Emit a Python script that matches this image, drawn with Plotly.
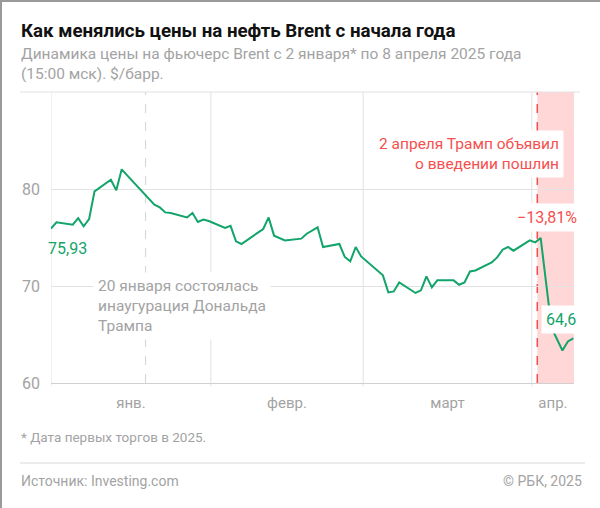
import pandas as pd
import plotly.graph_objects as go

# Brent, $/барр., котировки на 15:00 мск
dates = [
    "2025-01-02", "2025-01-03", "2025-01-06", "2025-01-07", "2025-01-08", "2025-01-09",
    "2025-01-10", "2025-01-13", "2025-01-14", "2025-01-15", "2025-01-16", "2025-01-21",
    "2025-01-22", "2025-01-23", "2025-01-24", "2025-01-27", "2025-01-28", "2025-01-29",
    "2025-01-30", "2025-01-31", "2025-02-03", "2025-02-04", "2025-02-05", "2025-02-06",
    "2025-02-10", "2025-02-11", "2025-02-12", "2025-02-14", "2025-02-17", "2025-02-18",
    "2025-02-20", "2025-02-21", "2025-02-24", "2025-02-25", "2025-02-26", "2025-02-27",
    "2025-02-28", "2025-03-04", "2025-03-05", "2025-03-06", "2025-03-07", "2025-03-10",
    "2025-03-11", "2025-03-12", "2025-03-13", "2025-03-14", "2025-03-17", "2025-03-18",
    "2025-03-19", "2025-03-20", "2025-03-21", "2025-03-24", "2025-03-25", "2025-03-26",
    "2025-03-27", "2025-03-28", "2025-03-31", "2025-04-01", "2025-04-02", "2025-04-04",
    "2025-04-06", "2025-04-07", "2025-04-08",
]
prices = [
    75.93, 76.56, 76.32, 77.00, 76.15, 76.90,
    79.75, 80.96, 79.86, 82.03, 81.40, 78.38,
    78.10, 77.59, 77.53, 77.07, 77.53, 76.60,
    76.84, 76.70, 75.98, 76.20, 74.60, 74.33,
    75.88, 77.07, 75.19, 74.70, 74.88, 75.39,
    76.05, 74.02, 74.33, 72.99, 72.54, 74.02,
    73.05, 71.10, 69.34, 69.44, 70.37, 69.28,
    69.55, 70.99, 69.86, 70.58, 70.58, 70.13,
    70.37, 71.50, 71.60, 72.43, 72.95, 73.74,
    74.02, 73.64, 74.70, 74.50, 74.95, 65.67,
    63.35, 64.29, 64.60,
]
month_labels = ["янв.", "февр.", "март", "апр."]
month_starts = ["2025-01-01", "2025-02-01", "2025-03-01", "2025-04-01"]
y_ticks = [60, 70, 80]
inauguration = "2025-01-20"
tariffs = "2025-04-02"
change_text = "\u221213,81%"

GREEN = "#12a46a"
RED = "#f5504f"
GREY = "#a3a3a3"
GRID = "#e2e2e2"
FONT = "Roboto"

W, H = 600, 508
L, R, T, B = 51, 26, 92, 125
PW, PH = W - L - R, H - T - B

def px(x):
    return (x - L) / PW

def py(y):
    return (H - B - y) / PH

x = pd.to_datetime(pd.Series(dates)) + pd.Timedelta(hours=15)
x_start = x.iloc[0]
x_end = x.iloc[-1] + pd.Timedelta(hours=3)

# подписи месяцев по центру видимой части месяца
starts = pd.to_datetime(pd.Series(month_starts))
tick_pos = []
for i, s in enumerate(starts):
    e = starts[i + 1] if i + 1 < len(starts) else x_end
    a = max(s, x_start)
    b = min(e, x_end)
    tick_pos.append(a + (b - a) / 2)

fig = go.Figure()
fig.add_trace(go.Scatter(x=x, y=prices, mode="lines",
                         line=dict(color=GREEN, width=2), hoverinfo="skip"))

shapes = []
# зона после 2 апреля
shapes.append(dict(type="rect", xref="x", yref="paper", x0=tariffs, x1=x_end, y0=0, y1=1,
                   fillcolor="#ffd7d7", line=dict(width=0), layer="below"))
# вертикальная сетка по месяцам
for s in [x_start] + [v for v in starts if v > x_start]:
    shapes.append(dict(type="line", xref="x", yref="paper", x0=s, x1=s, y0=-0.012, y1=1,
                       line=dict(color=GRID, width=1), layer="below"))
shapes.append(dict(type="line", xref="x", yref="paper", x0=inauguration, x1=inauguration,
                   y0=0, y1=1, line=dict(color="#d8d8d8", width=1.2, dash="dash"), layer="below"))
shapes.append(dict(type="line", xref="x", yref="paper", x0=tariffs, x1=tariffs,
                   y0=0, y1=1, line=dict(color=RED, width=1.5, dash="dash"), layer="below"))
# верхняя линия
shapes.append(dict(type="line", xref="paper", yref="paper", x0=px(20), x1=px(580), y0=1, y1=1,
                   line=dict(color=GRID, width=1.2)))
# разделитель подвала
shapes.append(dict(type="line", xref="paper", yref="paper", x0=px(20), x1=px(585),
                   y0=py(463), y1=py(463), line=dict(color="#ececec", width=2)))
# рамка
shapes.append(dict(type="line", xref="paper", yref="paper", x0=px(1), x1=px(1),
                   y0=py(0), y1=py(H), line=dict(color="#9a9a9a", width=2)))
shapes.append(dict(type="line", xref="paper", yref="paper", x0=px(0), x1=px(W),
                   y0=py(1), y1=py(1), line=dict(color="#9a9a9a", width=2)))

ann = []
def text(xp, yp, s, size, color, xanchor="left", bg=None, bold=False, align="left", yanchor="middle"):
    ann.append(dict(xref="paper", yref="paper", x=px(xp), y=py(yp), text=("<b>%s</b>" % s) if bold else s,
                    showarrow=False, xanchor=xanchor, yanchor=yanchor, align=align,
                    font=dict(family=FONT, size=size, color=color),
                    bgcolor=bg, borderpad=4 if bg else 0))

text(20, 31, "Как менялись цены на нефть Brent с начала года", 18.7, "#111111", bold=True)
text(20, 64, "Динамика цены на фьючерс Brent с 2 января* по 8 апреля 2025 года<br>(15:00 мск). $/барр.",
     15.5, GREY)
text(93, 272, "20 января состоялась<br>инаугурация Дональда<br>Трампа", 15.5, GREY,
     bg="white", yanchor="top")
text(564, 154, "2 апреля Трамп объявил<br>о введении пошлин", 15.5, RED, xanchor="right",
     bg="white", align="right")
text(582, 217, change_text, 16, RED, xanchor="right", bg="white")
text(47, 248, "75,93", 16, GREEN)
text(581, 319, "64,6", 16, GREEN, xanchor="right", bg="white")
text(20, 437, "* Дата первых торгов в 2025.", 13.5, GREY)
text(20, 481, "Источник: Investing.com", 14, GREY)
text(583, 481, "© РБК, 2025", 14, GREY, xanchor="right")

fig.update_layout(
    width=W, height=H, margin=dict(l=L, r=R, t=T, b=B),
    paper_bgcolor="white", plot_bgcolor="white",
    showlegend=False, shapes=shapes, annotations=ann,
    font=dict(family=FONT, color=GREY),
    xaxis=dict(type="date", range=[x_start, x_end], tickvals=tick_pos, ticktext=month_labels,
               showgrid=False, zeroline=False, showline=True, linecolor="#d0d0d0", linewidth=1,
               ticks="", tickfont=dict(size=15, color=GREY), ticklabelstandoff=6),
    yaxis=dict(range=[60, 90], tickvals=y_ticks, showgrid=True, gridcolor=GRID, gridwidth=1,
               zeroline=False, showline=False, ticks="", tickfont=dict(size=16, color=GREY),
               ticklabelstandoff=10),
)

# убрать отступ страницы, чтобы график стоял в углу окна
fig.write_html("out.html", config={"displayModeBar": False},
               post_script="document.body.style.margin='0';")
